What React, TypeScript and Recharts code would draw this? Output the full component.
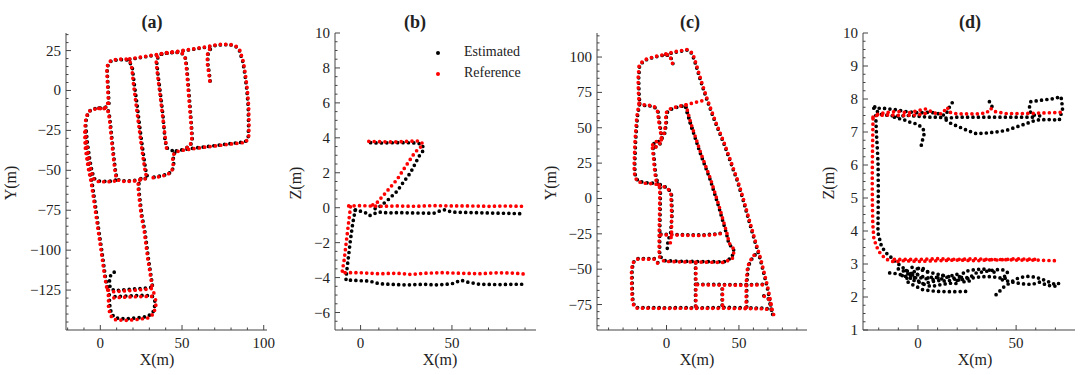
import React from "react";
import { ScatterChart, Scatter, XAxis, YAxis } from "recharts";

const H = 375;
const PLOT_TOP = 33;
const PLOT_BOTTOM = 330;
const AXIS = "#444444";
const TEXT = "#222222";
const FONT = "Liberation Serif, Tinos, DejaVu Serif, Times New Roman, serif";
const EST = "#000000";
const REF = "#ff0000";

// ---- tick values ----
const aXMajor = [0, 50, 100];
const aXMinor = [-20, -10, 10, 20, 30, 40, 60, 70, 80, 90];
const aYMajor = [-125, -100, -75, -50, -25, 0, 25];
const aYMinor = [-145, -140, -135, -130, -120, -115, -110, -105, -95, -90, -85, -80, -70, -65, -60, -55, -45, -40, -35, -30, -20, -15, -10, -5, 5, 10, 15, 20, 30, 35];

const bXMajor = [0, 50];
const bXMinor = [-10, 10, 20, 30, 40, 60, 70, 80, 90];
const bYMajor = [-6, -4, -2, 0, 2, 4, 6, 8, 10];
const bYMinor = [-6.5, -5.5, -5, -4.5, -3.5, -3, -2.5, -1.5, -1, -0.5, 0.5, 1, 1.5, 2.5, 3, 3.5, 4.5, 5, 5.5, 6.5, 7, 7.5, 8.5, 9, 9.5];

const cXMajor = [0, 50];
const cXMinor = [-40, -30, -20, -10, 10, 20, 30, 40, 60, 70, 80, 90];
const cYMajor = [-75, -50, -25, 0, 25, 50, 75, 100];
const cYMinor = [-90, -85, -80, -70, -65, -60, -55, -45, -40, -35, -30, -20, -15, -10, -5, 5, 10, 15, 20, 30, 35, 40, 45, 55, 60, 65, 70, 80, 85, 90, 95, 105, 110, 115];

const dXMajor = [0, 50];
const dXMinor = [-20, -10, 10, 20, 30, 40, 60, 70];
const dYMajor = [1, 2, 3, 4, 5, 6, 7, 8, 9, 10];
const dYMinor = [1.25, 1.5, 1.75, 2.25, 2.5, 2.75, 3.25, 3.5, 3.75, 4.25, 4.5, 4.75, 5.25, 5.5, 5.75, 6.25, 6.5, 6.75, 7.25, 7.5, 7.75, 8.25, 8.5, 8.75, 9.25, 9.5, 9.75];

// ---- (a) X-Y trajectories ----
const aRef = [
  [[5, -8], [4.5, 2], [4, 12], [4.5, 16.5], [6.5, 18.8], [11, 19.6], [16, 19.6], [18.2, 18], [19.3, 14], [20.3, 4], [21.8, -8], [23.3, -20], [24.8, -32], [26.3, -43], [27.5, -51], [28.5, -55]],
  [[18, 19.8], [30, 21.8], [45, 24.2], [58, 26.2], [66, 27.6], [72, 28.8], [79, 29], [83, 27.8], [85.5, 25], [87.5, 18], [88.8, 10], [90, 0], [90.8, -10], [91, -22], [90.8, -29], [89, -32.5], [80, -33.5], [68, -35], [58, -36.3], [50, -37.5], [46, -38.5], [44.2, -41], [44.6, -46], [43.8, -50.5], [41, -52.8], [36, -54], [30, -55]],
  [[40.5, -36], [39.8, -30], [38, -15], [36.5, -2], [35, 10], [34.2, 18], [35.2, 21.8], [38, 23.5], [46, 24.2], [50, 23.5], [51.8, 21], [52.6, 15], [53.6, 3], [54.6, -10], [55.6, -22], [56, -30], [55, -34.5], [52, -36.5]],
  [[67, 6], [66.5, 10], [65.6, 16], [65.4, 22], [66.5, 25.5], [69, 28]],
  [[4.5, -8], [4, -10.5], [0, -11.3], [-4, -11.7], [-7, -13], [-8.8, -17], [-9.3, -22], [-8.5, -32], [-7, -43], [-5.5, -51], [-4, -55.5], [-1.5, -57], [3, -57.2], [8, -57], [10.5, -56]],
  [[-1, -11.2], [3.5, -11.4], [5, -13.5], [5.8, -20], [6.8, -30], [7.8, -40], [8.8, -49], [9.6, -54], [11, -56.2], [15, -57], [20, -56.8], [25, -56], [28.5, -55]],
  [[-9.5, -26], [-9.3, -35], [-7.5, -48], [-5.5, -58], [-3.5, -72], [-1.4, -87], [0.6, -101], [2.6, -116], [4, -124]],
  [[24.5, -55.5], [23, -59], [23.5, -65], [25, -78], [27, -89], [29, -105], [31, -118], [31.8, -123.5]],
  [[4.5, -125], [5, -129], [5, -136], [6.2, -141], [9, -143.5], [15, -144], [22, -143.5], [29, -142.5], [32.5, -140], [34, -135], [33.8, -131], [32, -129], [26, -129], [18, -129.3], [10, -129.7], [6.5, -130]],
  [[5, -125], [8, -126], [15, -125.5], [22, -125], [28, -124.5], [31.5, -124], [32.5, -126], [33.5, -129]],
];
const aEst = [
  [[5.3, -8], [4.8, 2], [4.2, 12], [4.8, 16.5], [6.8, 18.6], [11, 19.3], [16, 19.3], [18, 17.8], [19.6, 14], [20.8, 4], [22.4, -8], [23.8, -20], [25.3, -32], [26.8, -43], [28, -51], [29, -54.5]],
  [[18, 19.5], [30, 21.5], [45, 24], [58, 26], [66, 27.3], [72, 28.5], [79, 28.8], [83, 27.5], [85.2, 24.7], [87.2, 18], [88.5, 10], [89.7, 0], [90.5, -10], [90.7, -22], [90.5, -29], [88.7, -32.2], [80, -33.2], [68, -34.8], [58, -36], [50, -37.2], [46.5, -37.8]],
  [[40, -33], [40.8, -36], [43, -37.3], [46, -38.2], [44.6, -41], [44.9, -46], [44, -50.5], [41, -52.5], [36, -53.7], [30, -54.8]],
  [[39.5, -30], [38.3, -15], [36.8, -2], [35.3, 10], [34.5, 18], [35.5, 21.5], [38, 23.2], [46, 24], [50, 23.2], [52, 20.7], [52.9, 15], [53.9, 3], [54.9, -10], [55.8, -22], [56.3, -30], [55.3, -34.2], [52, -36.2]],
  [[67.2, 6], [66.8, 10], [65.9, 16], [65.7, 22], [66.8, 25.2], [69, 27.7]],
  [[4.8, -8], [4.3, -10.3], [0, -11], [-4, -11.4], [-6.8, -13], [-8.5, -17], [-8.9, -22], [-8, -32], [-6.5, -43], [-5, -51], [-3.6, -55.2], [-1.2, -56.7], [3, -56.9], [8, -56.7], [10.5, -55.7]],
  [[-0.8, -11], [3.8, -11.1], [5.3, -13.5], [6.1, -20], [7.1, -30], [8.1, -40], [9.1, -49], [9.9, -54], [11.2, -55.9], [15, -56.7], [20, -56.5], [25, -55.7], [28.8, -54.8]],
  [[-9, -26], [-8.8, -35], [-7, -48], [-5, -58], [-3, -72], [-1, -87], [1, -101], [3, -116], [4.5, -124]],
  [[24.8, -55.2], [23.4, -59], [23.9, -65], [25.4, -78], [27.4, -89], [29.4, -105], [31.3, -118], [32, -123]],
  [[8.5, -113.8], [7, -114.5], [5.8, -117], [5.5, -121], [6.3, -124.2], [9, -125.3], [15, -124.8], [22, -124.2], [28, -123.8], [31.5, -123.2], [32.8, -125.5]],
  [[5.5, -128], [5.7, -134], [6.8, -140], [9.5, -142.5], [15, -143], [22, -142.5], [29, -141.5], [32.2, -139], [33.5, -134], [33.2, -130.5], [31.5, -128.5], [26, -128.3], [18, -128.6], [10, -129], [6.8, -129.3]],
];

// ---- (b) X-Z trajectories ----
const bRef = [
  [[4.5, 3.8], [10, 3.78], [18, 3.76], [26, 3.8], [31, 3.82], [33.5, 3.75], [34, 3.55], [31.8, 3.4], [29, 3.05], [23.6, 2.2], [20, 1.62], [14.5, 0.95], [9, 0.29], [6, 0.12]],
  [[-6.5, 0.1], [0, 0.12], [10, 0.08], [20, 0.1], [30, 0.08], [40, 0.12], [50, 0.1], [60, 0.1], [70, 0.08], [80, 0.1], [90, 0.08]],
  [[-5.5, 0.05], [-6.5, -0.8], [-7.3, -1.5], [-8.2, -2.3], [-9, -3], [-9.8, -3.5], [-10.2, -3.75], [-9, -3.72], [0, -3.72], [10, -3.78], [20, -3.75], [28, -3.82], [35, -3.75], [45, -3.72], [55, -3.75], [65, -3.78], [75, -3.72], [85, -3.75], [90, -3.8]],
];
const bEst = [
  [[5.5, 3.72], [10, 3.7], [18, 3.72], [26, 3.72], [31, 3.7], [33.8, 3.62], [34.5, 3.3], [32, 2.95], [27.3, 2.0], [23, 1.4], [20, 0.95], [15, 0.45], [11, 0.1], [7, -0.1]],
  [[-3, -0.15], [0, -0.2], [3, -0.3], [5, -0.45], [7, -0.35], [10, -0.25], [15, -0.3], [20, -0.28], [30, -0.3], [40, -0.32], [43, -0.2], [46, -0.12], [50, -0.25], [60, -0.28], [70, -0.3], [80, -0.32], [90, -0.35]],
  [[-2.8, -0.12], [-3.8, -0.6], [-4.5, -1.05], [-5.5, -1.8], [-6.4, -2.6], [-7.2, -3.3], [-7.8, -3.85], [-8, -4.15], [-5, -4.15], [0, -4.18], [5, -4.2], [10, -4.35], [15, -4.38], [20, -4.4], [25, -4.42], [30, -4.4], [35, -4.38], [40, -4.42], [45, -4.4], [50, -4.35], [55, -4.15], [58, -4.25], [65, -4.38], [75, -4.4], [85, -4.38], [90, -4.38]],
];

// ---- (c) X-Y trajectories ----
const cRef = [
  [[4.1, 95.6], [3.5, 98], [1.8, 101.3], [-0.5, 102], [-8.5, 100.3], [-15.4, 98], [-18.9, 94.4], [-19.6, 85], [-19.4, 75], [-18.9, 67.4], [-20.5, 57.9], [-21.7, 41.5], [-22.4, 22.6], [-21.9, 15.5], [-20, 12], [-15.4, 10.8], [-8.5, 10.4], [-5.1, 9.7], [-4.6, 5], [-4.8, -10], [-5.1, -25], [-5.1, -41], [-1.6, -44.5], [10, -44.8], [25, -45], [39.9, -45.2], [45.6, -42.2], [46.8, -36.3], [43.3, -31.6], [41.7, -24.5], [39, -15], [36.4, -5.7], [30.6, 13.2], [23.7, 32], [16.8, 53.2], [13.4, 66.2]],
  [[-18.9, 67.4], [-16.6, 66.2], [-13.1, 66.2], [-8.5, 65], [-6.2, 61.5], [-5.5, 55.6], [-4.4, 48.5], [-3.5, 42.6], [-5, 38], [-8, 36], [-9.8, 37.5], [-8.5, 40], [-5.5, 40.5], [-2.5, 42]],
  [[-9.7, 35.6], [-8.9, 28], [-8.5, 22.6], [-7.4, 13.2], [-5.1, 9.7], [0.7, 7.3], [3, 3.8], [3.5, -10.4], [3.5, -24.5], [2.2, -35]],
  [[-3.5, 42.6], [-1.6, 46.2], [-0.5, 53.2], [-0.5, 60.3], [1.8, 63.1], [7.6, 65], [13.4, 66.2], [20, 68], [27.2, 69.7]],
  [[-0.5, 102.2], [7, 104], [14.5, 105.4], [18, 102.8], [20.3, 95.6], [24, 83], [28.3, 69.7], [34, 54], [39.9, 39.1], [44.5, 26], [49, 13.2], [53, 0], [57.1, -15], [61, -29], [65.2, -43.3], [69.8, -62.2], [72.1, -74], [73.3, -81]],
  [[-3.9, -25.7], [5, -25.8], [15, -26.1], [25, -26.2], [33, -25.6], [39.9, -24.5]],
  [[-6.2, -45.7], [-8.5, -42.9], [-15, -42.9], [-20, -42.9], [-23.5, -45.7], [-24.2, -52], [-24, -65], [-23.5, -74], [-21.2, -77.5], [-10, -77.6], [0, -77.7], [10, -77.6], [20, -77.7], [30, -77.7], [40, -77.6], [50, -77.8], [60, -77.9], [68, -78], [72, -79]],
  [[20.3, -45.5], [20.3, -55], [20.3, -65], [20.3, -77]],
  [[21.4, -61], [35, -61.2], [50, -61.3], [60, -61.2], [67.5, -61]],
  [[38.7, -64], [38.7, -77]],
  [[55, -77], [55, -68], [55, -60], [56, -48], [59.4, -41], [62.5, -38.5]],
  [[67.5, -69.2], [71, -71.6], [72.2, -76], [73, -80], [74, -82], [73.5, -82.5]],
];
const cEst = [
  [[4.4, 95.4], [3.8, 98], [2, 101], [-0.5, 101.6], [-8.5, 100], [-15.2, 97.6], [-18.6, 94], [-19.2, 85], [-19, 75], [-18.5, 67.4], [-20.1, 57.9], [-21.3, 41.5], [-22, 22.6], [-21.5, 15.8], [-19.7, 12.4], [-15.4, 11.2], [-8.5, 10.8], [-4.7, 10], [-4.2, 5], [-4.4, -10], [-4.7, -25], [-4.7, -40.6], [-1.4, -44], [10, -44.4], [25, -44.6], [39.6, -44.8], [45.2, -41.8], [46.4, -36.3], [43, -31.8], [41.3, -24.5], [38.6, -15], [36, -5.7], [30.2, 13.2], [23.3, 32], [16.4, 53.2], [13, 66]],
  [[-18.5, 67], [-16.4, 65.8], [-13, 65.8], [-8.2, 64.6], [-5.8, 61.2], [-5.1, 55.6], [-4, 48.5], [-3.2, 42.8], [-4.6, 38.2], [-7.6, 36.4], [-9.4, 37.6], [-8.2, 39.8], [-5.2, 40.2], [-2.2, 41.8]],
  [[-9.3, 35.4], [-8.5, 28], [-8.1, 22.6], [-7, 13.5], [-4.8, 10], [1, 7.2], [3.4, 3.6], [3.9, -10.4], [2.8, -24.5], [1, -30], [0.4, -37]],
  [[-3.1, 42.8], [-1.2, 46.2], [-0.1, 53.2], [-0.1, 60], [2, 62.7], [7.6, 64.6], [13, 65.8], [15, 58], [17, 52], [18, 48]],
  [[-0.5, 101.8], [7, 103.6], [14.5, 105], [17.6, 102.4], [19.9, 95.6], [23.6, 83], [27.9, 69.7], [33.6, 54], [39.5, 39.1], [44.1, 26], [48.6, 13.2], [52.6, 0], [56.7, -15], [60.6, -29], [64.8, -43.3], [69.4, -62.2], [71.7, -74], [73, -81.5]],
  [[-3.9, -25.2], [5, -25.4], [15, -25.7], [25, -25.8], [33, -25.2], [39.5, -24.2]],
  [[-6, -45.3], [-8.3, -42.5], [-15, -42.5], [-20, -42.5], [-23.1, -45.3], [-23.8, -52], [-23.6, -65], [-23.1, -74], [-21, -77.1], [-10, -77.2], [0, -77.3], [10, -77.2], [20, -77.3], [30, -77.2], [40, -77], [50, -77.2], [60, -77.4], [68, -77.6], [72, -78.5]],
  [[20, -45.5], [20, -55], [20, -65], [20, -76.6]],
  [[21.4, -60.6], [35, -60.8], [50, -60.9], [60, -60.8], [67.5, -60.6]],
  [[38.4, -64], [38.4, -76.6]],
  [[55.4, -76.6], [55.4, -68], [55.4, -60], [56.4, -48], [59.8, -41], [62.9, -38.5]],
  [[67.2, -68.8], [70.6, -71.2], [71.8, -76], [72.6, -80], [73.6, -82.8], [72.8, -82.8]],
];

// ---- (d) X-Z trajectories ----
const dRef = [
  [[-22.9, 7.45], [-20, 7.55], [-15, 7.6], [-10, 7.62], [-5, 7.58], [0, 7.65], [4, 7.7], [8, 7.58], [12, 7.55], [15, 7.75], [16, 7.6], [20, 7.55], [30, 7.55], [35, 7.58], [37, 7.72], [39, 7.62], [45, 7.56], [55, 7.56], [65, 7.58], [75, 7.6]],
  [[-21, 7.5], [-15, 7.52], [-8, 7.5], [0, 7.52], [5, 7.58]],
  [[-22.9, 7.4], [-23, 7], [-23.2, 6.2], [-23.3, 5.5], [-23.2, 4.8], [-23, 4.2], [-22.5, 3.8], [-21.2, 3.54], [-19, 3.3], [-16, 3.14], [-12, 3.06], [-8, 3.1], [0, 3.08], [10, 3.1], [20, 3.12], [30, 3.1], [40, 3.14], [50, 3.12], [60, 3.12], [70, 3.1], [72, 3.1]],
  [[-12, 3.14], [0, 3.14], [10, 3.16], [20, 3.14], [30, 3.16], [40, 3.12], [50, 3.16], [60, 3.14]],
];
const dEst = [
  [[-22, 7.76], [-20, 7.55], [-15, 7.5], [-10, 7.48], [-5, 7.5], [0, 7.48], [5, 7.45], [10, 7.45], [15, 7.42], [20, 7.45], [30, 7.45], [40, 7.45], [50, 7.45], [60, 7.45]],
  [[-22.5, 7.72], [-18, 7.72], [-12, 7.68], [-6, 7.62], [0, 7.58], [6, 7.6], [10, 7.56], [14, 7.5]],
  [[14.4, 7.36], [17, 7.25], [21.2, 7.15], [25, 7.05], [29.7, 6.95], [35, 6.97], [39.8, 7.0], [45, 7.05], [50, 7.15], [55, 7.25], [60, 7.36], [66, 7.38], [72, 7.36], [73.7, 7.71], [72.9, 8.07], [68, 8.0], [63.6, 7.97], [57.5, 7.92], [56.8, 7.75], [57.5, 7.55], [60, 7.5], [64, 7.48]],
  [[-12, 7.45], [-9.3, 7.4], [-6, 7.35], [-4.2, 7.3], [-1, 7.25], [2, 7.15], [3.4, 7.0], [2.5, 6.8], [1.7, 6.6], [0.5, 6.52], [0, 6.48]],
  [[14.8, 7.6], [16, 7.75], [17.8, 7.92]],
  [[36.4, 7.92], [37.5, 7.8], [38.3, 7.7]],
  [[-21.5, 7.5], [-21.2, 7.0], [-20.6, 6.4], [-20.3, 5.98], [-20.2, 5.2], [-20.3, 4.5], [-20.4, 3.95], [-18.6, 3.54], [-16.5, 3.35], [-14.4, 3.24], [-11, 3.05], [-8.5, 2.93], [-4.2, 2.73], [0, 2.68]],
  [[-14.4, 2.73], [-10, 2.7], [-6, 2.62], [-3, 2.55], [0, 2.6], [4, 2.55], [8, 2.62], [12, 2.55], [16, 2.62], [19.5, 2.7], [22, 2.6], [26, 2.58], [29.7, 2.73], [35, 2.78], [39.8, 2.83], [44, 2.82], [45.8, 2.73], [44, 2.62]],
  [[-6, 2.8], [-4, 2.72], [-2, 2.6], [0, 2.5], [2, 2.4], [6, 2.45], [10, 2.5], [15, 2.48], [19.5, 2.55], [22, 2.65], [24, 2.78], [28, 2.82], [33, 2.85], [38, 2.8], [40, 2.68]],
  [[-5, 2.45], [-2, 2.35], [2.5, 2.22], [9.3, 2.17], [18, 2.16], [26.3, 2.17]],
  [[-8, 2.65], [-5, 2.55], [-3, 2.7], [-1, 2.82], [1, 2.9], [3, 2.85], [6, 2.7]],
  [[39.8, 2.07], [42, 2.2], [44, 2.32], [46.6, 2.42], [50, 2.55], [55, 2.63], [60, 2.6], [63.6, 2.53], [67, 2.45], [70.3, 2.37], [72, 2.42], [71, 2.5]],
  [[43, 2.52], [48, 2.45], [53, 2.4], [58, 2.38], [62, 2.45], [66, 2.35], [70, 2.33], [72, 2.4]],
  [[20, 2.5], [25, 2.55], [30, 2.6], [35, 2.62], [40, 2.6], [44, 2.55], [46, 2.62]],
  [[-10, 2.85], [-7, 2.78], [-4, 2.65], [-1, 2.7], [2, 2.62], [5, 2.58], [8, 2.52], [11, 2.6], [14, 2.7]],
  [[-3, 2.9], [0, 2.85], [4, 2.78], [8, 2.72], [12, 2.66], [17, 2.6], [21, 2.52], [24, 2.45], [27, 2.5]],
  [[-2, 2.5], [1, 2.44], [4, 2.36], [7, 2.32], [12, 2.38], [17, 2.42], [21, 2.4]],
];

const toPoints = (seg: number[][]) => seg.map(([x, y]) => ({ x, y }));

const fmt = (v: number) => (v < 0 ? "\u2212" + Math.abs(v) : String(v));

const noDot = () => <g />;

type Side = "bottom" | "left" | "top" | "right";

function makeTick(side: Side, majors: number[]) {
  return (p: any) => {
    const v = p.payload.value;
    const major = majors.indexOf(v) >= 0;
    const len = major ? 5 : 2.5;
    const { x, y } = p;
    let line;
    if (side === "bottom") line = <line x1={x} x2={x} y1={y} y2={y - len} />;
    else if (side === "top") line = <line x1={x} x2={x} y1={y} y2={y + len} />;
    else if (side === "left") line = <line x1={x} x2={x + len} y1={y} y2={y} />;
    else line = <line x1={x} x2={x - len} y1={y} y2={y} />;
    let label = null;
    if (major && side === "bottom") {
      label = (
        <text x={x} y={y + 18} textAnchor="middle" fill={TEXT} fontSize={15} style={{ fontFamily: FONT }}>
          {fmt(v)}
        </text>
      );
    } else if (major && side === "left") {
      label = (
        <text x={x - 5} y={y + 5} textAnchor="end" fill={TEXT} fontSize={15} style={{ fontFamily: FONT }}>
          {fmt(v)}
        </text>
      );
    }
    return (
      <g stroke={AXIS} strokeWidth={1}>
        {line}
        {label && <g stroke="none">{label}</g>}
      </g>
    );
  };
}

type PanelProps = {
  left: number;
  width: number;
  plotLeft: number;
  plotRight: number;
  xDomain: [number, number];
  yDomain: [number, number];
  xMajor: number[];
  xMinor: number[];
  yMajor: number[];
  yMinor: number[];
  est: number[][][];
  refs: number[][][];
};

function Panel(props: PanelProps) {
  const { left, width, plotLeft, plotRight, xDomain, yDomain, xMajor, xMinor, yMajor, yMinor, est, refs } = props;
  const xTicks = [...xMajor, ...xMinor].sort((a, b) => a - b);
  const yTicks = [...yMajor, ...yMinor].sort((a, b) => a - b);
  const lineStyle = (c: string) => ({
    stroke: c,
    strokeWidth: 3.7,
    strokeDasharray: "0 5.4",
    strokeLinecap: "round" as const,
  });
  const axisLine = { stroke: AXIS, strokeWidth: 1 };
  return (
    <div style={{ position: "absolute", left, top: 0 }}>
      <ScatterChart
        width={width}
        height={H}
        margin={{ top: PLOT_TOP, right: left + width - plotRight, bottom: 0, left: 0 }}
      >
        <XAxis
          xAxisId="b"
          dataKey="x"
          type="number"
          orientation="bottom"
          domain={xDomain}
          allowDataOverflow
          ticks={xTicks}
          interval={0}
          height={H - PLOT_BOTTOM}
          tickSize={0}
          tickMargin={0}
          tickLine={false}
          axisLine={axisLine}
          tick={makeTick("bottom", xMajor)}
        />
        <XAxis
          xAxisId="t"
          type="number"
          orientation="top"
          domain={xDomain}
          allowDataOverflow
          ticks={xTicks}
          interval={0}
          height={0}
          tickSize={0}
          tickMargin={0}
          tickLine={false}
          axisLine={axisLine}
          tick={makeTick("top", xMajor)}
        />
        <YAxis
          yAxisId="l"
          dataKey="y"
          type="number"
          orientation="left"
          domain={yDomain}
          allowDataOverflow
          ticks={yTicks}
          interval={0}
          width={plotLeft - left}
          tickSize={0}
          tickMargin={0}
          tickLine={false}
          axisLine={axisLine}
          tick={makeTick("left", yMajor)}
        />
        <YAxis
          yAxisId="r"
          type="number"
          orientation="right"
          domain={yDomain}
          allowDataOverflow
          ticks={yTicks}
          interval={0}
          width={0}
          tickSize={0}
          tickMargin={0}
          tickLine={false}
          axisLine={axisLine}
          tick={makeTick("right", yMajor)}
        />
        {est.map((seg, i) => (
          <Scatter
            key={"e" + i}
            xAxisId="b"
            yAxisId="l"
            data={toPoints(seg)}
            fill={EST}
            line={lineStyle(EST)}
            lineType="joint"
            shape={noDot}
            isAnimationActive={false}
          />
        ))}
        {refs.map((seg, i) => (
          <Scatter
            key={"r" + i}
            xAxisId="b"
            yAxisId="l"
            data={toPoints(seg)}
            fill={REF}
            line={lineStyle(REF)}
            lineType="joint"
            shape={noDot}
            isAnimationActive={false}
          />
        ))}
      </ScatterChart>
    </div>
  );
}

const Txt = ({ x, y, size, bold, rotate, children }: any) => (
  <div
    style={{
      position: "absolute",
      left: x,
      top: y,
      transform: `translate(-50%, -50%)${rotate ? " rotate(-90deg)" : ""}`,
      fontSize: size,
      fontFamily: FONT,
      fontWeight: bold ? "bold" : "normal",
      color: TEXT,
      whiteSpace: "nowrap",
      lineHeight: 1,
    }}
  >
    {children}
  </div>
);

export default function App() {
  return (
    <div
      style={{
        position: "absolute",
        left: 0,
        top: 0,
        width: 1080,
        height: H,
        background: "#fff",
        fontFamily: FONT,
        overflow: "hidden",
      }}
    >
      <Panel left={0} width={275} plotLeft={66} plotRight={267} xDomain={[-21, 102]} yDomain={[-150, 36]}
        xMajor={aXMajor} xMinor={aXMinor} yMajor={aYMajor} yMinor={aYMinor} est={aEst} refs={aRef} />
      <Panel left={275} width={270} plotLeft={335} plotRight={536} xDomain={[-14, 96]} yDomain={[-7, 10]}
        xMajor={bXMajor} xMinor={bXMinor} yMajor={bYMajor} yMinor={bYMinor} est={bEst} refs={bRef} />
      <Panel left={545} width={270} plotLeft={597} plotRight={807} xDomain={[-48, 97]} yDomain={[-93, 117]}
        xMajor={cXMajor} xMinor={cXMinor} yMajor={cYMajor} yMinor={cYMinor} est={cEst} refs={cRef} />
      <Panel left={815} width={265} plotLeft={863} plotRight={1075} xDomain={[-28, 80]} yDomain={[1, 10]}
        xMajor={dXMajor} xMinor={dXMinor} yMajor={dYMajor} yMinor={dYMinor} est={dEst} refs={dRef} />

      <Txt x={152} y={22} size={18} bold>(a)</Txt>
      <Txt x={415} y={22} size={18} bold>(b)</Txt>
      <Txt x={690} y={22} size={18} bold>(c)</Txt>
      <Txt x={970} y={22} size={18} bold>(d)</Txt>

      <Txt x={157} y={360} size={16}>X(m)</Txt>
      <Txt x={440} y={360} size={16}>X(m)</Txt>
      <Txt x={697} y={360} size={16}>X(m)</Txt>
      <Txt x={975} y={360} size={16}>X(m)</Txt>

      <Txt x={11} y={183} size={16} rotate>Y(m)</Txt>
      <Txt x={296} y={183} size={16} rotate>Z(m)</Txt>
      <Txt x={551} y={183} size={16} rotate>Y(m)</Txt>
      <Txt x={829} y={183} size={16} rotate>Z(m)</Txt>

      <div style={{ position: "absolute", left: 436, top: 51, width: 4, height: 4, borderRadius: 2, background: EST }} />
      <div style={{ position: "absolute", left: 436, top: 72, width: 4, height: 4, borderRadius: 2, background: REF }} />
      <div style={{ position: "absolute", left: 464, top: 45, fontSize: 14, fontFamily: FONT, color: TEXT, lineHeight: 1 }}>Estimated</div>
      <div style={{ position: "absolute", left: 464, top: 66, fontSize: 14, fontFamily: FONT, color: TEXT, lineHeight: 1 }}>Reference</div>
    </div>
  );
}
